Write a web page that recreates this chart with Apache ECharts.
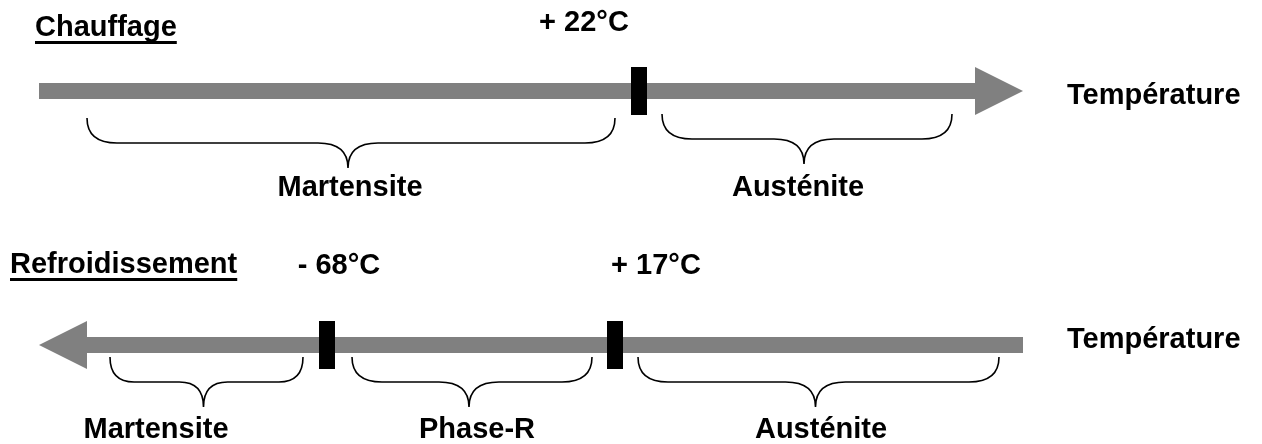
<!DOCTYPE html>
<html><head><meta charset="utf-8">
<script src="https://cdn.jsdelivr.net/npm/echarts@6/dist/echarts.min.js"></script>
<style>html,body{margin:0;padding:0;background:#fff}#c{width:1262px;height:444px}</style>
</head><body><div id="c"></div>
<script>
// ---------------- data ----------------
const rowTitles = ['Chauffage', 'Refroidissement'];
const axisName = 'Température';

const heatTransitions = ['+ 22°C'];
const heatTransitionPos = [639];
const heatPhases = ['Martensite', 'Austénite'];
const heatPhaseFrom = [87, 662];
const heatPhaseTo = [615, 952];

const coolTransitions = ['- 68°C', '+ 17°C'];
const coolTransitionPos = [327, 615];
const coolPhases = ['Martensite', 'Phase-R', 'Austénite'];
const coolPhaseFrom = [110, 352, 638];
const coolPhaseTo = [303, 592, 999];

// ---------------- layout (diagram units, not data) ----------------
const rowLevel = [91, 345];          // vertical position of each temperature line
const arrowTail = [39, 1023];
const arrowTip = [1023, 39];
const titleX = [35, 10], titleY = [28, 265];
const axisNameX = 1067, axisNameY = [96, 340];
const heatTransLabelX = [584], coolTransLabelX = [339, 656];
const transLabelY = [23, 266];
const heatBraceTop = [118, 114], coolBraceTop = [357, 357, 357];
const heatPhaseLabelX = [350, 798], coolPhaseLabelX = [156, 477, 821];
const phaseLabelY = [188, 430];

const FONT_FAMILY = '"Liberation Sans", Arial, sans-serif';
const FONT_SIZE = 29;
const FONT = 'bold ' + FONT_SIZE + 'px ' + FONT_FAMILY;
const GRAY = '#808080';

const measureCtx = document.createElement('canvas').getContext('2d');
function textWidth(t) { measureCtx.font = FONT; return measureCtx.measureText(t).width; }

// ---- build item lists ----
const arrowData = rowLevel.map((lv, i) => [arrowTail[i], lv, arrowTip[i]]);
const markerData = heatTransitionPos.map(x => [x, rowLevel[0]])
  .concat(coolTransitionPos.map(x => [x, rowLevel[1]]));
const braceData = heatPhaseFrom.map((f, i) => [f, heatBraceTop[i], heatPhaseTo[i]])
  .concat(coolPhaseFrom.map((f, i) => [f, coolBraceTop[i], coolPhaseTo[i]]));

const texts = [];
rowTitles.forEach((t, i) => texts.push({ value: [titleX[i], titleY[i]], text: t, align: 'left', underline: true }));
rowLevel.forEach((lv, i) => texts.push({ value: [axisNameX, axisNameY[i]], text: axisName, align: 'left' }));
heatTransitions.forEach((t, i) => texts.push({ value: [heatTransLabelX[i], transLabelY[0]], text: t, align: 'center' }));
coolTransitions.forEach((t, i) => texts.push({ value: [coolTransLabelX[i], transLabelY[1]], text: t, align: 'center' }));
heatPhases.forEach((t, i) => texts.push({ value: [heatPhaseLabelX[i], phaseLabelY[0]], text: t, align: 'center' }));
coolPhases.forEach((t, i) => texts.push({ value: [coolPhaseLabelX[i], phaseLabelY[1]], text: t, align: 'center' }));

const chart = echarts.init(document.getElementById('c'), null, { renderer: 'canvas' });

chart.setOption({
  animation: false,
  backgroundColor: '#ffffff',
  grid: { left: 0, right: 0, top: 0, bottom: 0 },
  xAxis: { type: 'value', min: 0, max: 1262, show: false },
  yAxis: { type: 'value', min: 0, max: 444, inverse: true, show: false },
  series: [
    {
      type: 'custom', name: 'arrows', data: arrowData, silent: true, z: 1,
      renderItem: function (params, api) {
        const p0 = api.coord([api.value(0), api.value(1)]);
        const p1 = api.coord([api.value(2), api.value(1)]);
        const dir = p1[0] > p0[0] ? 1 : -1;
        const base = p1[0] - dir * 48;
        const y = p0[1], h = 8, hh = 24;
        return {
          type: 'polygon',
          shape: { points: [[p0[0], y - h], [base, y - h], [base, y - hh], [p1[0], y], [base, y + hh], [base, y + h], [p0[0], y + h]] },
          style: { fill: GRAY }
        };
      }
    },
    {
      type: 'custom', name: 'transitions', data: markerData, silent: true, z: 2,
      renderItem: function (params, api) {
        const p = api.coord([api.value(0), api.value(1)]);
        return { type: 'rect', shape: { x: p[0] - 8, y: p[1] - 24, width: 16, height: 48 }, style: { fill: '#000' } };
      }
    },
    {
      type: 'custom', name: 'phases', data: braceData, silent: true, z: 2,
      renderItem: function (params, api) {
        const a = api.coord([api.value(0), api.value(1)]);
        const b = api.coord([api.value(2), api.value(1)]);
        const x0 = a[0], x1 = b[0], y0 = a[1];
        const y1 = y0 + 25, y2 = y0 + 50;
        const xm = (x0 + x1) / 2 - 3;
        const r = Math.min(30, (x1 - x0) / 8);
        const d = 'M' + x0 + ' ' + y0 +
          ' Q' + x0 + ' ' + y1 + ' ' + (x0 + r) + ' ' + y1 +
          ' L' + (xm - r) + ' ' + y1 +
          ' Q' + xm + ' ' + y1 + ' ' + xm + ' ' + y2 +
          ' Q' + xm + ' ' + y1 + ' ' + (xm + r) + ' ' + y1 +
          ' L' + (x1 - r) + ' ' + y1 +
          ' Q' + x1 + ' ' + y1 + ' ' + x1 + ' ' + y0;
        return { type: 'path', shape: { pathData: d }, style: { fill: null, stroke: '#000', lineWidth: 1.6 } };
      }
    },
    {
      type: 'custom', name: 'labels', data: texts.map(t => t.value), silent: true, z: 3,
      renderItem: function (params, api) {
        const item = texts[params.dataIndex];
        const p = api.coord([api.value(0), api.value(1)]);
        const children = [{
          type: 'text',
          style: { text: item.text, x: p[0], y: p[1], align: item.align, verticalAlign: 'middle',
                   fill: '#000', fontSize: FONT_SIZE, fontWeight: 'bold', fontFamily: FONT_FAMILY }
        }];
        if (item.underline) {
          const w = textWidth(item.text);
          children.push({ type: 'rect', shape: { x: p[0], y: p[1] + 13, width: w, height: 3 }, style: { fill: '#000' } });
        }
        return { type: 'group', children: children };
      }
    }
  ]
});
</script></body></html>
